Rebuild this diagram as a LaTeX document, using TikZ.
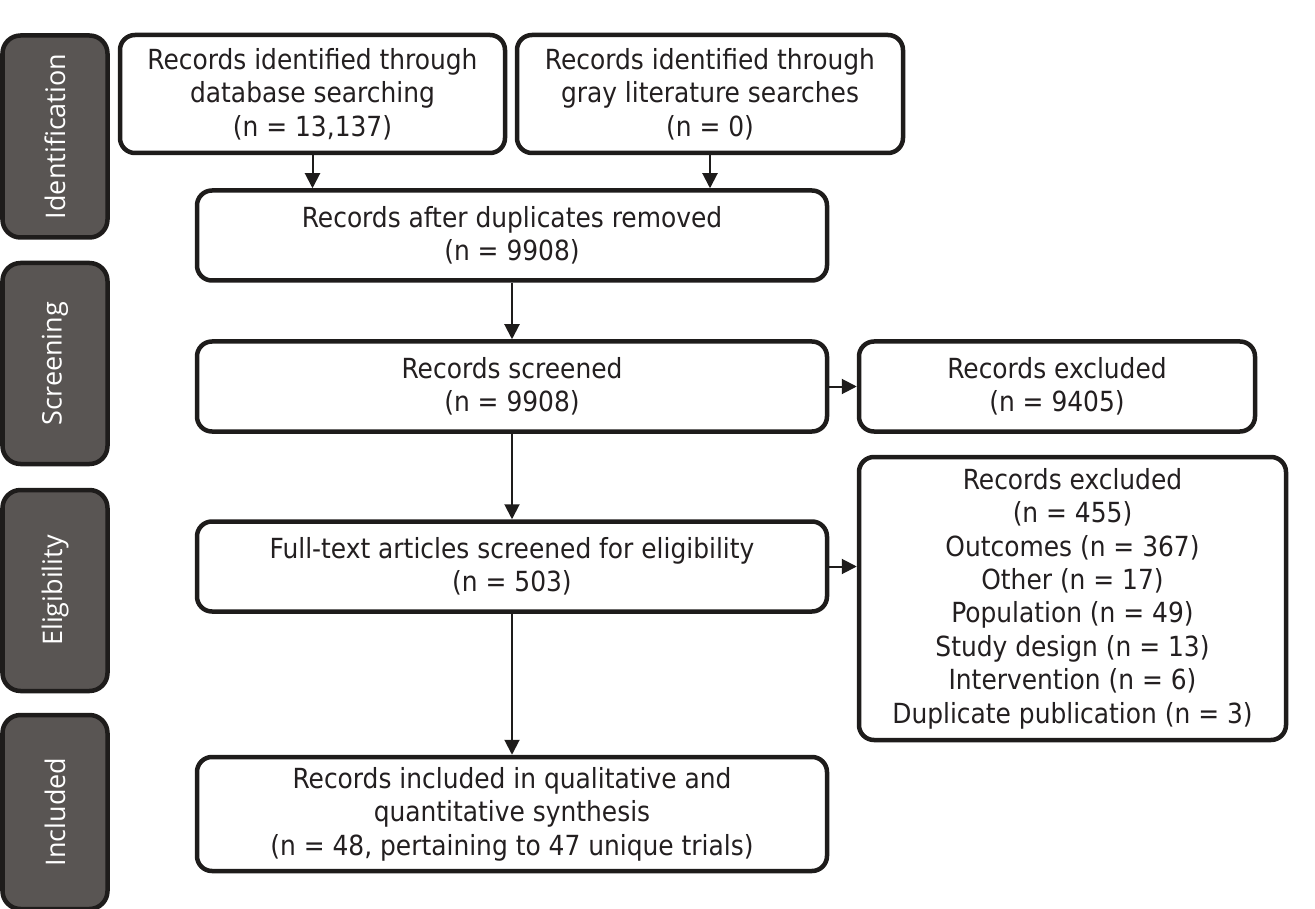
\documentclass[tikz,border=0pt]{standalone}
\usepackage{fontspec}
\setmainfont{DejaVu Sans Condensed}
\newfontfamily\sidefont{Open Sans}
\usetikzlibrary{arrows.meta}
\definecolor{boxline}{HTML}{1E1C1B}
\definecolor{textcol}{HTML}{231F20}
\definecolor{sidefill}{HTML}{595553}
\tikzset{
  flowbox/.style={draw=boxline, line width=4.5pt, rounded corners=15pt, fill=white,
    align=center, inner sep=0pt, font=\fontsize{27.7}{33.4}\selectfont, text=textcol},
  phase/.style={draw=boxline, line width=4.5pt, rounded corners=18pt, fill=sidefill,
    minimum width=105pt, inner sep=0pt},
  phaselabel/.style={text=white, font=\sidefont\fontsize{27}{30}\selectfont, rotate=90},
  flowarrow/.style={draw=boxline, line width=2pt, -{Triangle[length=15pt,width=15pt]}}
}
\begin{document}
\begin{tikzpicture}[x=1pt,y=-1pt]
\useasboundingbox (0,0) rectangle (1315,909);
% phase sidebars
\node[phase, minimum height=202pt] (pid) at (55,136.5) {};
\node[phaselabel] (lid) at (pid.center) {Identification};
\node[phase, minimum height=201pt] (psc) at (55,363.5) {};
\node[phaselabel] (lsc) at (psc.center) {Screening};
\node[phase, minimum height=201pt] (pel) at (55,590.5) {};
\node[phaselabel] (lel) at (pel.center) {Eligibility};
\node[phase, minimum height=194pt] (pin) at (55,812) {};
\node[phaselabel] (lin) at (pin.center) {Included};
% flow boxes
\node[flowbox, minimum width=385pt, minimum height=118pt] (a) at (312.5,94)
  {Records identified through\\database searching\\(n = 13,137)};
\node[flowbox, minimum width=386pt, minimum height=118pt] (b) at (710,94)
  {Records identified through\\gray literature searches\\(n = 0)};
\node[flowbox, minimum width=630pt, minimum height=90pt] (c) at (512,235.5)
  {Records after duplicates removed\\(n = 9908)};
\node[flowbox, minimum width=630pt, minimum height=90pt] (d) at (512,386.5)
  {Records screened\\(n = 9908)};
\node[flowbox, minimum width=396pt, minimum height=90pt] (e) at (1057,386.5)
  {Records excluded\\(n = 9405)};
\node[flowbox, minimum width=630pt, minimum height=90pt] (f) at (512,566.5)
  {Full-text articles screened for eligibility\\(n = 503)};
\node[flowbox, minimum width=427pt, minimum height=283pt] (g) at (1072.5,598.5)
  {Records excluded\\(n = 455)\\Outcomes (n = 367)\\Other (n = 17)\\Population (n = 49)\\Study design (n = 13)\\Intervention (n = 6)\\Duplicate publication (n = 3)};
\node[flowbox, minimum width=630pt, minimum height=114pt] (h) at (512,814)
  {Records included in qualitative and\\quantitative synthesis\\(n = 48, pertaining to 47 unique trials)};
% connectors
\draw[flowarrow] (a.south) -- (a.south |- c.north);
\draw[flowarrow] (b.south) -- (b.south |- c.north);
\draw[flowarrow] (c.south) -- (d.north);
\draw[flowarrow] (d.east) -- (e.west);
\draw[flowarrow] (d.south) -- (f.north);
\draw[flowarrow] (f.east) -- (f.east -| g.west);
\draw[flowarrow] (f.south) -- (h.north);
\end{tikzpicture}
\end{document}
